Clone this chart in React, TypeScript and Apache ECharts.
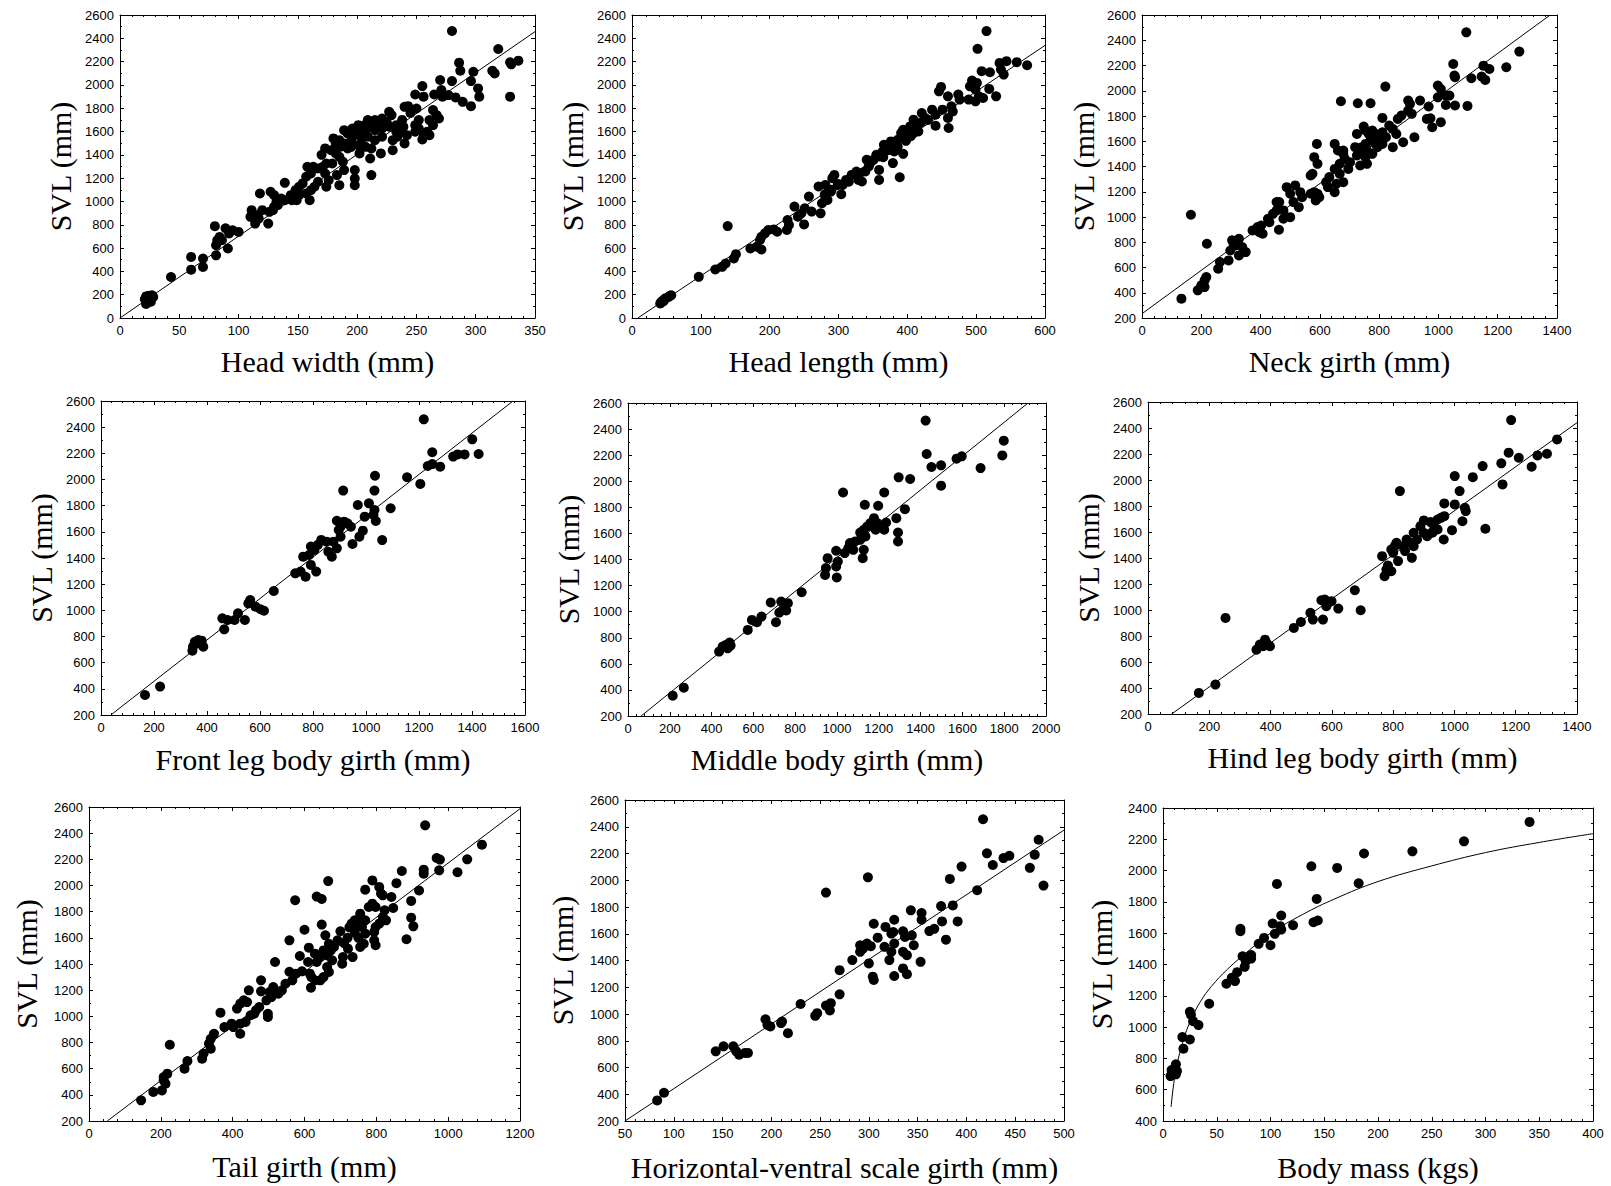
import React, { useEffect, useRef } from "react";
import * as echarts from "echarts";

// ---------- DATA ----------
const xTitles = [
  "Head width (mm)",
  "Head length (mm)",
  "Neck girth (mm)",
  "Front leg body girth (mm)",
  "Middle body girth (mm)",
  "Hind leg body girth (mm)",
  "Tail girth (mm)",
  "Horizontal-ventral scale girth (mm)",
  "Body mass (kgs)",
];
const yTitle = "SVL (mm)";

// [min, max, interval]
const xRanges = [
  [0, 350, 50], [0, 600, 100], [0, 1400, 200],
  [0, 1600, 200], [0, 2000, 200], [0, 1400, 200],
  [0, 1200, 200], [50, 500, 50], [0, 400, 50],
];
const yRanges = [
  [0, 2600, 200], [0, 2600, 200], [200, 2600, 200],
  [200, 2600, 200], [200, 2600, 200], [200, 2600, 200],
  [200, 2600, 200], [200, 2600, 200], [400, 2400, 200],
];

const headWidthData = [
  [280,2463],[319,2308],[286,2191],[287,2122],[298,2113],[314,2122],[316,2099],[329,2194],[330,2177],[336,2208],[329,1899],
  [270,2042],[280,2033],[296,2033],[255,1990],[271,1956],[302,1970],[303,1899],[289,1855],[296,1818],[249,1918],[256,1899],[265,1918],[272,1899],[277,1913],[283,1893],
  [250,1798],[240,1812],[243,1818],[264,1784],[267,1741],[269,1712],[261,1698],[264,1655],[259,1598],[252,1698],[249,1655],[252,1626],[249,1598],[255,1532],[256,1584],[261,1569],[240,1498],[242,1569],
  [229,1741],[227,1770],[221,1712],[215,1698],[209,1698],[208,1669],[204,1646],[201,1655],[196,1626],[201,1598],[207,1612],[215,1612],[221,1626],[227,1641],[233,1655],[236,1612],[239,1641],[233,1598],[234,1555],[230,1526],[221,1555],[215,1526],[209,1555],[204,1541],[198,1569],[192,1584],[189,1612],[185,1526],[182,1498],[180,1541],[189,1498],[192,1455],[195,1469],[201,1483],[207,1469],[212,1455],[202,1412],[211,1369],[220,1412],[230,1440],
  [245,1760],[238,1700],[225,1680],[218,1660],[212,1640],[205,1580],[195,1520],[186,1470],[178,1440],[170,1400],
  [173,1455],[182,1412],[185,1383],[188,1340],[179,1326],[174,1326],[171,1297],[167,1283],[163,1297],[161,1240],[158,1297],[189,1269],[198,1269],[198,1197],[198,1140],[183,1226],[185,1140],[176,1183],[173,1240],[174,1126],[212,1226],
  [157,1212],[154,1155],[151,1126],[148,1097],[151,1054],[160,1011],[161,1097],[164,1126],[167,1169],[157,1068],[144,1054],[145,1011],[149,1011],[139,1160],[139,1011],[136,1025],[132,997],[129,925],[126,911],[130,954],[133,968],[127,1083],[130,1054],[118,1068],
  [111,925],[116,882],[117,853],[120,925],[125,810],[114,810],[110,868],[100,739],[95,753],[92,725],[89,770],[91,596],[86,667],[82,667],[84,696],[81,624],[80,788],[81,538],[70,510],[70,438],[60,524],[60,415],[43,352],
  [22,120],[23,150],[24,190],[25,175],[22,185],[26,140],[27,195],[21,160],[28,180],
];
const headWidthFit = [[0, 0], [350, 2457]];

const headLengthData = [
  [515,2462],[502,2310],[520,2109],[508,2118],[536,2132],[544,2204],[559,2195],[574,2169],[534,2189],[540,2089],
  [494,2037],[501,2017],[491,1988],[499,1960],[504,1902],[499,1859],[519,1966],[510,1888],[529,1902],[489,1874],
  [449,1983],[446,1945],[459,1902],[474,1917],[476,1874],[464,1816],[466,1773],[459,1716],[460,1630],[451,1788],[436,1788],[441,1745],[421,1759],[426,1716],[441,1650],
  [409,1702],[414,1659],[416,1601],[409,1587],[404,1644],[401,1601],[396,1558],[394,1615],[391,1587],[386,1529],[386,1472],[381,1500],[376,1515],[371,1472],[366,1486],[364,1429],[394,1409],[381,1429],[379,1329],[389,1208],
  [420,1680],[430,1700],[405,1560],[398,1520],[372,1440],[355,1400],[365,1380],[345,1350],[300,1150],[315,1170],[290,1100],[280,1060],
  [359,1386],[351,1357],[346,1329],[341,1357],[344,1300],[339,1257],[359,1271],[359,1185],[331,1243],[334,1171],[329,1185],[326,1257],[319,1228],[311,1185],[306,1142],[304,1062],[294,1228],[291,1200],[299,1142],
  [281,1142],[286,1085],[281,1027],[276,985],[284,1013],[271,1128],[289,1085],[274,898],[257,1042],[261,913],[251,941],[236,956],[246,898],[241,869],[250,803],[226,841],[228,798],[225,755],[211,740],[206,760],[198,755],[193,726],[188,697],[186,669],[188,588],[172,597],[181,611],
  [139,789],[151,548],[148,511],[136,468],[131,439],[121,416],[97,353],
  [41,125],[43,140],[45,150],[47,160],[49,170],[53,180],[55,190],[42,130],[46,145],[57,195],
];
const headLengthFit = [[8.5, 0], [600, 2339]];

const neckGirthData = [
  [1094,2463],[1273,2310],[1229,2186],[1050,2212],[1054,2120],[1056,2107],[1152,2199],[1146,2112],[1172,2172],[1158,2086],[1111,2099],
  [821,2033],[671,1917],[728,1901],[771,1901],
  [998,2041],[1008,2014],[998,1948],[1025,1962],[1037,1962],[1056,1883],[1098,1880],[1025,1888],[898,1922],[904,1896],[938,1922],[967,1875],
  [961,1777],[973,1782],[979,1711],[1008,1751],[919,1632],[898,1843],[910,1817],[875,1803],[863,1777],[811,1785],[834,1724],[846,1698],[858,1658],[881,1592],[846,1553],
  [777,1685],[788,1658],[800,1632],[806,1606],[788,1579],[771,1606],[754,1579],[742,1553],[759,1527],[777,1500],[794,1553],[811,1579],[823,1632],[811,1671],[719,1553],[731,1500],[754,1474],[765,1658],
  [748,1716],[754,1685],[725,1658],[759,1421],[736,1408],[696,1381],[702,1434],[684,1461],[725,1487],[679,1500],[661,1527],[679,1527],[650,1579],[590,1579],[581,1474],[592,1421],[575,1342],
  [667,1421],[650,1381],[667,1342],[679,1276],[656,1263],[632,1316],[627,1237],[650,1197],[621,1276],[598,1157],[592,1184],[581,1197],[569,1184],[586,1131],[569,1329],[517,1250],[540,1157],[529,1078],[511,1118],[500,1184],[534,1197],[488,1236],
  [463,1118],[454,1052],[477,1052],[500,999],[454,1118],[477,986],[442,1025],[462,899],[425,986],[430,959],[402,933],[396,880],[390,920],[407,867],[373,894],[327,828],[315,775],[309,788],[304,815],[338,762],[350,722],[327,696],[298,735],[292,656],[263,643],[257,590],
  [219,788],[217,524],[211,498],[200,458],[188,419],[211,445],[165,1018],[133,353],
];
const neckGirthFit = [[0, 234], [1377, 2600]];

const frontLegData = [
  [1218,2460],[1401,2307],[1425,2195],[1329,2175],[1346,2192],[1372,2192],[1250,2208],[1233,2103],[1250,2118],[1280,2098],[1155,2017],[1205,1966],[1034,2029],[1032,1915],[914,1915],[969,1805],[1011,1818],[1093,1780],[1032,1767],[1037,1683],[1028,1729],[995,1716],[890,1685],[917,1678],[930,1665],[943,1639],[904,1639],[897,1614],[988,1609],[975,1563],[1061,1537],[949,1507],[904,1563],[890,1474],[877,1525],[851,1525],[831,1538],[871,1410],[858,1448],[792,1487],[785,1423],[763,1410],[805,1461],[818,1500],[792,1347],[812,1296],[772,1257],[733,1283],[753,1296],[652,1148],[563,1079],[556,1053],[583,1028],[602,1008],[615,997],[517,977],[504,926],[543,926],[458,939],[478,926],[465,855],[347,722],[354,760],[367,773],[380,768],[386,722],[373,748],[345,692],[166,353],[223,417],
];
const frontLegFit = [[37, 200], [1555, 2600]];

const middleBodyData = [
  [1424,2465],[1798,2311],[1791,2198],[1429,2209],[1452,2109],[1498,2122],[1572,2173],[1597,2191],[1687,2101],[1498,1966],[1295,2030],[1350,2017],[1029,1914],[1226,1914],[1133,1820],[1197,1812],[1325,1786],[1284,1717],[1292,1607],[1292,1538],[1235,1684],[1226,1628],[1177,1717],[1193,1679],[1160,1679],[1185,1628],[1202,1653],[1144,1653],[1128,1628],[1111,1607],[1136,1577],[1111,1551],[1128,1474],[1123,1410],[1086,1538],[1062,1526],[1054,1487],[1037,1449],[1078,1474],[996,1467],[955,1410],[1004,1385],[996,1346],[947,1334],[943,1282],[999,1262],[831,1149],[683,1070],[733,1078],[765,1065],[741,1014],[757,1009],[724,993],[708,919],[593,937],[617,919],[639,962],[573,860],[486,763],[469,745],[453,732],[436,694],[477,719],[491,740],[214,356],[267,417],
];
const middleBodyFit = [[63, 200], [1914, 2600]];

const hindLegData = [
  [1185,2461],[1335,2312],[1302,2202],[1271,2189],[1177,2210],[1210,2171],[1252,2102],[1153,2128],[1092,2107],[1157,1966],[1001,2030],[1060,2022],[1017,1915],[822,1915],[967,1820],[1001,1812],[1034,1786],[1037,1761],[967,1722],[956,1709],[945,1696],[1026,1683],[1101,1625],[992,1614],[900,1689],[922,1676],[889,1645],[934,1645],[945,1620],[928,1594],[911,1568],[900,1594],[965,1542],[867,1594],[878,1542],[856,1517],[844,1542],[867,1491],[833,1491],[839,1453],[811,1517],[805,1491],[794,1465],[800,1440],[816,1376],[861,1401],[764,1414],[783,1342],[778,1311],[772,1260],[794,1298],[675,1152],[694,998],[621,1011],[566,1075],[577,1080],[588,1055],[582,1029],[599,1068],[538,926],[571,926],[499,908],[530,978],[476,862],[253,939],[354,695],[365,734],[382,772],[387,747],[398,721],[376,721],[166,362],[220,426],
];
const hindLegFit = [[77, 200], [1400, 2441]];

const tailGirthData = [
  [936,2460],[1094,2312],[1053,2200],[1026,2101],[968,2210],[977,2198],[975,2116],[932,2121],[932,2090],[919,1962],[871,2111],[897,1882],[897,1754],[903,1688],[884,1589],[856,2018],[842,1912],[847,1828],[789,2039],[769,1968],[666,2034],[634,1915],[648,1897],[574,1887],[600,1662],[648,1701],[658,1619],[558,1581],[612,1525],[587,1461],[518,1415],[558,1341],[479,1191],[479,1275],[445,1199],[366,1028],[225,783],
  [808,1989],[813,1938],[818,1925],[789,1861],[798,1836],[779,1836],[823,1810],[818,1759],[827,1734],[808,1708],[798,1683],[794,1645],[794,1581],[798,1543],[769,1734],[760,1683],[769,1632],[755,1785],[740,1734],[731,1708],[765,1555],[755,1530],[721,1517],[707,1453],[692,1581],[682,1530],[673,1504],[668,1555],[653,1504],[663,1466],[677,1428],[705,1402],[734,1453],[644,1453],[634,1415],[663,1377],[668,1339],[653,1300],[644,1275],[629,1275],[619,1300],[610,1415],[629,1479],[615,1326],[593,1344],[618,1219],[576,1326],[566,1275],[547,1249],[537,1199],[527,1173],[513,1224],[503,1186],[508,1147],[494,1122],[498,1020],[498,995],[474,1071],[465,1046],[460,1020],[450,1008],[431,1122],[421,1097],[440,1109],[412,1059],[436,957],[421,944],[397,944],[402,918],[421,867],[377,918],[348,867],[339,829],[334,791],[339,753],[319,715],[315,676],[274,658],[266,600],[208,536],[218,562],[208,511],[213,485],[203,434],[179,422],[145,358],
  [740,1640],[750,1600],[720,1600],[710,1560],[700,1650],[760,1720],[745,1690],[725,1680],
];
const tailGirthFit = [[51, 200], [1200, 2587]];

const hvScaleData = [
  [417,2456],[474,2303],[470,2191],[465,2093],[479,1960],[421,2201],[427,2114],[438,2166],[444,2183],[395,2102],[383,2010],[411,1925],[299,2022],[256,1908],[343,1775],[354,1755],[354,1705],[374,1807],[386,1812],[375,1692],[391,1692],[379,1556],[326,1705],[305,1675],[317,1651],[325,1613],[323,1601],[335,1618],[337,1576],[344,1588],[362,1620],[367,1637],[346,1514],[353,1390],[309,1571],[316,1502],[323,1465],[326,1527],[291,1514],[294,1489],[298,1527],[302,1507],[291,1465],[300,1378],[321,1403],[335,1465],[339,1440],[335,1341],[339,1298],[326,1284],[304,1279],[305,1254],[283,1403],[270,1328],[270,1147],[256,1063],[261,1081],[260,1026],[247,1006],[245,986],[230,1075],[210,932],[211,944],[217,857],[194,961],[196,919],[199,907],[143,721],[151,758],[161,758],[164,721],[167,696],[173,709],[176,709],[83,354],[90,411],
];
const hvScaleFit = [[50, 200], [500, 2375]];

const bodyMassData = [
  [341,2311],[280,2187],[232,2123],[187,2109],[162,2017],[138,2028],[106,1915],[182,1919],[143,1819],[140,1670],[144,1681],[110,1713],[102,1662],[109,1645],[110,1623],[104,1596],[121,1651],[72,1628],[72,1613],[94,1570],[89,1532],[100,1523],[74,1453],[82,1460],[77,1421],[82,1438],[76,1385],[69,1351],[64,1315],[67,1294],[59,1277],[43,1149],[26,1079],[28,1038],[33,1013],[25,1098],[18,936],[25,921],[19,862],[12,762],[10,730],[12,698],[7,687],[8,726],[13,719],
];
const bodyMassFit = [
  [7.5,490],[10,640],[13,760],[17,870],[22,980],[28,1075],[35,1165],[45,1260],[60,1370],[80,1490],[100,1600],[130,1720],[160,1820],[200,1930],[250,2030],[300,2115],[350,2180],[400,2236],
];

const panelData = [headWidthData, headLengthData, neckGirthData, frontLegData, middleBodyData, hindLegData, tailGirthData, hvScaleData, bodyMassData];
const panelFits = [headWidthFit, headLengthFit, neckGirthFit, frontLegFit, middleBodyFit, hindLegFit, tailGirthFit, hvScaleFit, bodyMassFit];

// ---------- LAYOUT ----------
const gridBoxes = [
  { left: 120, top: 15, width: 415, height: 303 },
  { left: 632, top: 15, width: 413, height: 303 },
  { left: 1142, top: 15, width: 415, height: 303 },
  { left: 101, top: 401, width: 424, height: 314 },
  { left: 628, top: 403, width: 418, height: 313 },
  { left: 1148, top: 402, width: 429, height: 312 },
  { left: 89, top: 807, width: 431, height: 314 },
  { left: 625, top: 800, width: 439, height: 321 },
  { left: 1163, top: 808, width: 430, height: 313 },
];
const xNameGaps = [28, 28, 28, 29, 28, 28, 30, 31, 31];
const yNameGaps = [45, 45, 44, 45, 45, 45, 48, 48, 47];

const tickFont = { fontFamily: "Liberation Sans, Arial, sans-serif", fontSize: 13, color: "#000" };
const titleFont = { fontFamily: "Liberation Serif, Times New Roman, serif", fontSize: 30, color: "#000" };

export default function App() {
  const ref = useRef<HTMLDivElement>(null);
  useEffect(() => {
    document.body.style.margin = "0";
    const chart = echarts.init(ref.current as HTMLDivElement, null, { renderer: "svg" });
    const grid: any[] = [];
    const xAxis: any[] = [];
    const yAxis: any[] = [];
    const series: any[] = [];
    const line = { show: true, onZero: false, lineStyle: { color: "#000", width: 1 } };
    const tick = { show: true, inside: true, length: 4, lineStyle: { color: "#000", width: 1 } };
    const fmt = (v: number) => String(v);
    panelData.forEach((data, i) => {
      grid.push({ ...gridBoxes[i], containLabel: false });
      const [xmin, xmax, xint] = xRanges[i];
      const [ymin, ymax, yint] = yRanges[i];
      const xBase = { gridIndex: i, type: "value", min: xmin, max: xmax, interval: xint, axisLine: line, axisTick: tick, minorTick: { show: true, splitNumber: 5, length: 2, lineStyle: { color: "#000" } }, splitLine: { show: false } };
      const yBase = { gridIndex: i, type: "value", min: ymin, max: ymax, interval: yint, axisLine: line, axisTick: tick, minorTick: { show: true, splitNumber: 2, length: 2, lineStyle: { color: "#000" } }, splitLine: { show: false } };
      xAxis.push({ ...xBase, position: "bottom", axisLabel: { ...tickFont, margin: 6, formatter: fmt }, name: xTitles[i], nameLocation: "middle", nameGap: xNameGaps[i], nameTextStyle: titleFont });
      xAxis.push({ ...xBase, position: "top", axisLabel: { show: false } });
      yAxis.push({ ...yBase, position: "left", axisLabel: { ...tickFont, margin: 6, formatter: fmt }, name: yTitle, nameLocation: "middle", nameRotate: 90, nameGap: yNameGaps[i], nameTextStyle: titleFont });
      yAxis.push({ ...yBase, position: "right", axisLabel: { show: false } });
      series.push({
        type: "line", xAxisIndex: 2 * i, yAxisIndex: 2 * i, data: panelFits[i],
        showSymbol: false, symbol: "none", smooth: i === 8 ? 0.4 : false, clip: true, silent: true,
        lineStyle: { color: "#000", width: 1 }, z: 1,
      });
      series.push({
        type: "scatter", xAxisIndex: 2 * i, yAxisIndex: 2 * i, data,
        symbol: "circle", symbolSize: 10, itemStyle: { color: "#000", opacity: 1 }, z: 2,
      });
    });
    chart.setOption({ animation: false, backgroundColor: "#fff", grid, xAxis, yAxis, series });
    return () => chart.dispose();
  }, []);
  return <div ref={ref} style={{ width: 1611, height: 1186 }} />;
}
